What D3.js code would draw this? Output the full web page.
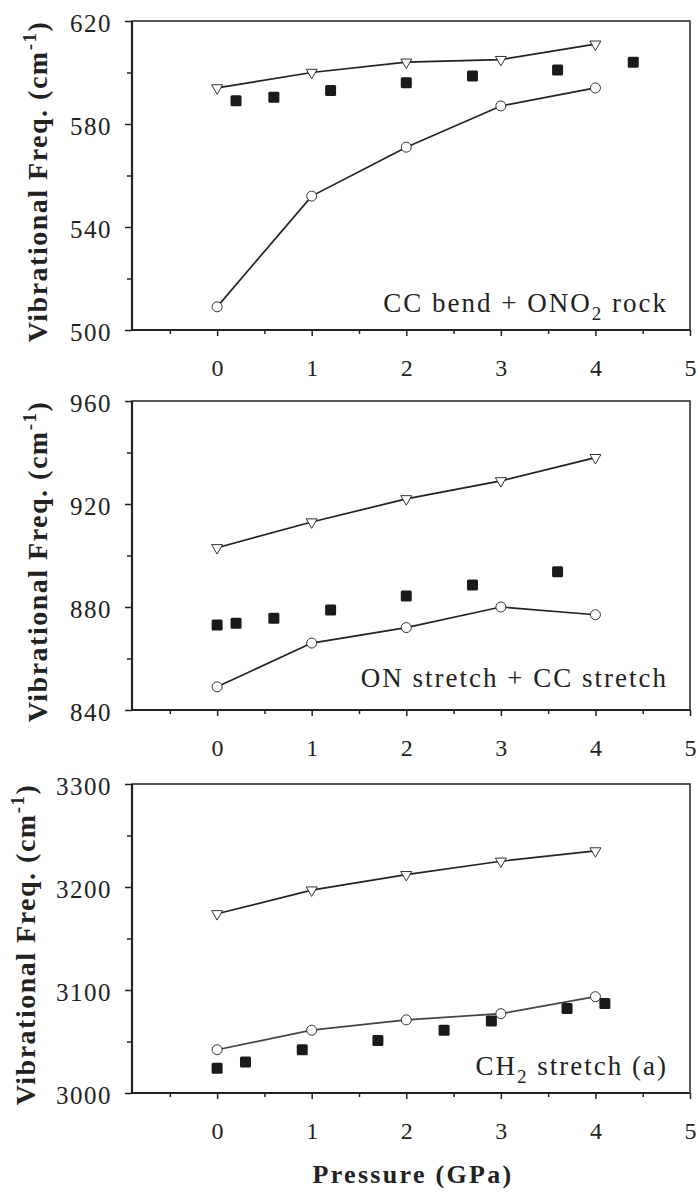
<!DOCTYPE html>
<html>
<head>
<meta charset="utf-8">
<script src="https://cdn.jsdelivr.net/npm/d3@7"></script>
<style>
  body { margin: 0; background: #ffffff; }
  svg { display: block; }
</style>
</head>
<body>
<div id="chart"></div>
<script>
  // Pressure values (GPa) of the calculated curves
  const calcPressure = [0, 1, 2, 3, 4];

  // Panel 1 — CC bend + ONO2 rock
  const p1Triangle = [594, 600, 604, 605, 611];
  const p1Circle = [509, 552, 571, 587, 594];
  const p1SquareP = [0.2, 0.6, 1.2, 2.0, 2.7, 3.6, 4.4];
  const p1Square = [589, 590.4, 593, 596, 598.6, 601, 604];

  // Panel 2 — ON stretch + CC stretch
  const p2Triangle = [903, 913, 922, 929, 938];
  const p2Circle = [849, 866, 872, 880, 877];
  const p2SquareP = [0, 0.2, 0.6, 1.2, 2.0, 2.7, 3.6];
  const p2Square = [873, 873.7, 875.6, 878.8, 884.3, 888.5, 893.7];

  // Panel 3 — CH2 stretch (a)
  const p3Triangle = [3174, 3197, 3212, 3225, 3235];
  const p3Circle = [3042, 3061, 3071, 3077, 3093.5];
  const p3SquareP = [0, 0.3, 0.9, 1.7, 2.4, 2.9, 3.7, 4.1];
  const p3Square = [3024, 3030, 3042, 3051, 3061, 3070, 3082, 3087];

  // Axes
  const xDomain = [-0.9, 5];
  const xMajor = [0, 1, 2, 3, 4, 5];
  const xMinor = [-0.5, 0.5, 1.5, 2.5, 3.5, 4.5];
  const p1YDomain = [500, 620], p1YMajor = [500, 540, 580, 620], p1YMinor = [520, 560, 600];
  const p2YDomain = [840, 960], p2YMajor = [840, 880, 920, 960], p2YMinor = [860, 900, 940];
  const p3YDomain = [3000, 3300], p3YMajor = [3000, 3100, 3200, 3300], p3YMinor = [3050, 3150, 3250];

  const W = 698, H = 1195;
  const SERIF = "'Liberation Serif', 'Times New Roman', Times, serif";
  const INK = "#222";
  const fmt = d3.format("d");

  const svg = d3.select("#chart").append("svg")
    .attr("width", W).attr("height", H);

  const x = d3.scaleLinear().domain(xDomain).range([132, 690]);

  const panels = [
    { top: 21, bottom: 330, yDomain: p1YDomain, yMajor: p1YMajor, yMinor: p1YMinor,
      tri: p1Triangle, circ: p1Circle, sqP: p1SquareP, sq: p1Square,
      titleX: 47, noteY: 312, note: ["CC bend + ONO", "2", " rock"] },
    { top: 401, bottom: 710, yDomain: p2YDomain, yMajor: p2YMajor, yMinor: p2YMinor,
      tri: p2Triangle, circ: p2Circle, sqP: p2SquareP, sq: p2Square,
      titleX: 47, noteY: 687, note: ["ON stretch + CC stretch"] },
    { top: 784, bottom: 1093, yDomain: p3YDomain, yMajor: p3YMajor, yMinor: p3YMinor,
      tri: p3Triangle, circ: p3Circle, sqP: p3SquareP, sq: p3Square,
      titleX: 35, noteY: 1075, note: ["CH", "2", " stretch (a)"], circColor: "#444" }
  ];

  panels.forEach(p => {
    const y = d3.scaleLinear().domain(p.yDomain).range([p.bottom, p.top]);
    const g = svg.append("g");

    // y ticks (outside) + labels
    const yAx = g.append("g").attr("transform", `translate(${x(xDomain[0])},0)`)
      .call(d3.axisLeft(y).tickValues(p.yMajor).tickFormat(fmt).tickSize(7).tickPadding(13).tickSizeOuter(0));
    yAx.append("g").call(d3.axisLeft(y).tickValues(p.yMinor).tickSize(5).tickFormat("").tickSizeOuter(0));
    yAx.selectAll("path.domain").remove();
    yAx.selectAll("line").attr("stroke", INK).attr("stroke-width", 1.5);
    yAx.selectAll("text").attr("font-family", SERIF).attr("font-size", 25)
      .attr("letter-spacing", 1.5).attr("fill", INK).attr("dy", "0.4em");

    // x ticks (outside) + labels
    const xAx = g.append("g").attr("transform", `translate(0,${p.bottom})`)
      .call(d3.axisBottom(x).tickValues(xMajor).tickFormat(fmt).tickSize(6).tickPadding(23).tickSizeOuter(0));
    xAx.append("g").call(d3.axisBottom(x).tickValues(xMinor).tickSize(4).tickFormat("").tickSizeOuter(0));
    xAx.selectAll("path.domain").remove();
    xAx.selectAll("line").attr("stroke", INK).attr("stroke-width", 1.5);
    xAx.selectAll("text").attr("font-family", SERIF).attr("font-size", 24).attr("fill", INK);

    // frame: thin top/right, heavier left/bottom
    g.append("rect")
      .attr("x", x(xDomain[0])).attr("y", p.top)
      .attr("width", x(xDomain[1]) - x(xDomain[0])).attr("height", p.bottom - p.top)
      .attr("fill", "none").attr("stroke", INK).attr("stroke-width", 1.5);
    g.append("path")
      .attr("d", `M${x(xDomain[0])},${p.top}V${p.bottom}H${x(xDomain[1])}`)
      .attr("fill", "none").attr("stroke", INK).attr("stroke-width", 2.2);

    // calculated curves
    const line = d3.line().x((d, i) => x(calcPressure[i])).y(d => y(d));
    g.append("path").datum(p.tri).attr("d", line)
      .attr("fill", "none").attr("stroke", INK).attr("stroke-width", 1.7);
    g.append("path").datum(p.circ).attr("d", line)
      .attr("fill", "none").attr("stroke", p.circColor || INK).attr("stroke-width", 1.7);

    // open down-triangles
    const tri = d3.symbol().type(d3.symbolTriangle).size(52);
    g.selectAll("path.tri").data(p.tri).enter().append("path").attr("class", "tri")
      .attr("d", tri)
      .attr("transform", (d, i) => `translate(${x(calcPressure[i])},${y(d)}) rotate(180)`)
      .attr("fill", "#fff").attr("stroke", "#333").attr("stroke-width", 1);

    // open circles
    g.selectAll("circle.circ").data(p.circ).enter().append("circle").attr("class", "circ")
      .attr("cx", (d, i) => x(calcPressure[i])).attr("cy", d => y(d)).attr("r", 5)
      .attr("fill", "#fff").attr("stroke", "#333").attr("stroke-width", 1);

    // experimental filled squares
    g.selectAll("rect.sq").data(p.sq).enter().append("rect").attr("class", "sq")
      .attr("x", (d, i) => x(p.sqP[i]) - 5.5).attr("y", d => y(d) - 5.5)
      .attr("width", 11).attr("height", 11).attr("rx", 1.5)
      .attr("fill", "#1a1a1a");

    // mode annotation
    const note = g.append("text")
      .attr("x", 668).attr("y", p.noteY).attr("text-anchor", "end")
      .attr("font-family", SERIF).attr("font-size", 27).attr("letter-spacing", 2)
      .attr("fill", INK);
    p.note.forEach((s, i) => {
      const t = note.append("tspan").text(s);
      if (s === "2") t.attr("font-size", 19).attr("dy", 8);
      else if (i > 0) t.attr("dy", -8);
    });

    // y title
    const cy = (p.top + p.bottom) / 2 + 6;
    const title = g.append("text")
      .attr("transform", `translate(${p.titleX},${cy}) rotate(-90)`)
      .attr("text-anchor", "middle")
      .attr("font-family", SERIF).attr("font-weight", "bold")
      .attr("font-size", 28).attr("letter-spacing", 1.5).attr("fill", INK);
    title.append("tspan").text("Vibrational Freq. (cm");
    title.append("tspan").text("-1").attr("font-size", 19).attr("dy", -11);
    title.append("tspan").text(")").attr("dy", 11);
  });

  // x title
  svg.append("text")
    .attr("x", 413).attr("y", 1183).attr("text-anchor", "middle")
    .attr("font-family", SERIF).attr("font-weight", "bold")
    .attr("font-size", 26).attr("letter-spacing", 2.3).attr("fill", INK)
    .text("Pressure (GPa)");
</script>
</body>
</html>
